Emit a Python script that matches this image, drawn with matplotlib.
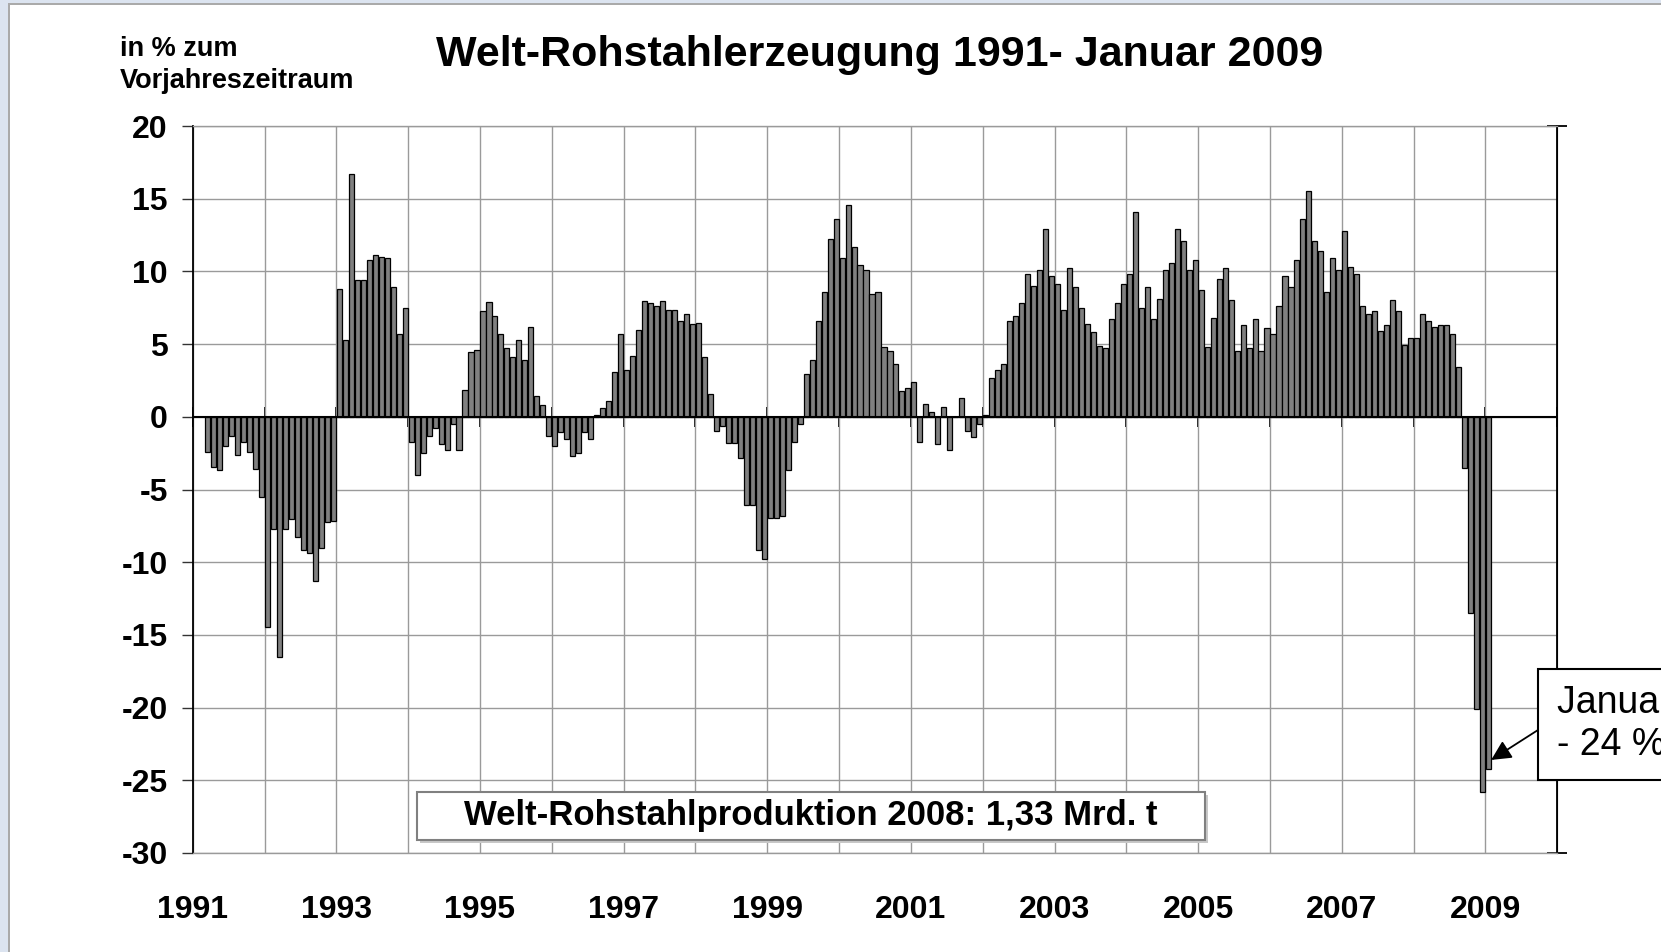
import numpy as np
import matplotlib
matplotlib.use("Agg")
import matplotlib.pyplot as plt
from matplotlib.patches import Rectangle

plt.rcParams['font.family'] = ['Liberation Sans', 'DejaVu Sans']

# monthly change in % vs. same month of previous year (Jan/Feb 1991 not shown)
nan = np.nan
y1991 = [nan, nan, -2.4, -3.45, -3.65, -2.0, -1.3, -2.6, -1.7, -2.4, -3.6, -5.5]
y1992 = [-14.45, -7.75, -16.55, -7.75, -7.0, -8.25, -9.15, -9.4, -11.3, -9.05, -7.25, -7.2]
y1993 = [8.8, 5.3, 16.7, 9.4, 9.4, 10.8, 11.15, 11.0, 10.9, 8.9, 5.7, 7.5]
y1994 = [-1.7, -4.0, -2.5, -1.3, -0.8, -1.9, -2.25, -0.5, -2.25, 1.85, 4.45, 4.6]
y1995 = [7.3, 7.9, 6.95, 5.7, 4.7, 4.1, 5.3, 3.9, 6.2, 1.4, 0.8, -1.3]
y1996 = [-2.0, -1.05, -1.55, -2.7, -2.5, -1.05, -1.55, 0.1, 0.6, 1.1, 3.05, 5.7]
y1997 = [3.2, 4.2, 6.0, 7.95, 7.85, 7.6, 7.95, 7.35, 7.35, 6.6, 7.05, 6.4]
y1998 = [6.45, 4.1, 1.6, -1.0, -0.6, -1.8, -1.8, -2.85, -6.1, -6.1, -9.15, -9.75]
y1999 = [-6.95, -6.95, -6.8, -3.65, -1.75, -0.5, 2.95, 3.9, 6.6, 8.6, 12.2, 13.6]
y2000 = [10.95, 14.55, 11.7, 10.45, 10.1, 8.45, 8.6, 4.8, 4.55, 3.65, 1.8, 2.0]
y2001 = [2.4, -1.7, 0.9, 0.35, -1.9, 0.7, -2.25, 0.0, 1.3, -0.95, -1.4, -0.5]
y2002 = [0.1, 2.7, 3.25, 3.65, 6.6, 6.95, 7.8, 9.85, 9.0, 10.1, 12.9, 9.7]
y2003 = [9.15, 7.35, 10.2, 8.9, 7.5, 6.35, 5.85, 4.85, 4.7, 6.7, 7.85, 9.15]
y2004 = [9.85, 14.1, 7.5, 8.9, 6.7, 8.1, 10.1, 10.6, 12.9, 12.1, 10.1, 10.8]
y2005 = [8.7, 4.8, 6.8, 9.5, 10.2, 8.0, 4.55, 6.3, 4.7, 6.7, 4.55, 6.1]
y2006 = [5.7, 7.6, 9.7, 8.9, 10.8, 13.6, 15.5, 12.1, 11.4, 8.6, 10.9, 10.1]
y2007 = [12.8, 10.3, 9.85, 7.6, 7.05, 7.3, 5.9, 6.3, 8.0, 7.3, 4.95, 5.4]
y2008 = [5.4, 7.05, 6.6, 6.2, 6.3, 6.3, 5.7, 3.4, -3.5, -13.5, -20.1, -25.8]
y2009 = [-24.2]

years = list(range(1991, 2011))
year_labels = [str(y) if (y - 1991) % 2 == 0 and y < 2010 else '' for y in years]
yticks = [-30, -25, -20, -15, -10, -5, 0, 5, 10, 15, 20]

values = np.array(y1991 + y1992 + y1993 + y1994 + y1995 + y1996 + y1997 + y1998
                  + y1999 + y2000 + y2001 + y2002 + y2003 + y2004 + y2005 + y2006
                  + y2007 + y2008 + y2009)
months = np.arange(len(values))

W, H = 1661, 952
fig = plt.figure(figsize=(W / 100, H / 100), dpi=100)
fig.patch.set_facecolor('white')

# slide frame (light blue border on left and top)
fig.patches.append(Rectangle((0, 0), 8 / W, 1, transform=fig.transFigure,
                             facecolor='#DCE4F0', edgecolor='none', zorder=-5))
fig.patches.append(Rectangle((0, 1 - 3 / H), 1, 3 / H, transform=fig.transFigure,
                             facecolor='#DCE4F0', edgecolor='none', zorder=-5))
fig.patches.append(Rectangle((8 / W, 0), 2 / W, 1 - 3 / H, transform=fig.transFigure,
                             facecolor='#AAAAAA', edgecolor='none', zorder=-4))
fig.patches.append(Rectangle((8 / W, 1 - 5 / H), 1, 2 / H, transform=fig.transFigure,
                             facecolor='#AAAAAA', edgecolor='none', zorder=-4))

x0, x1 = 192.7, 1557.3
ytop, ybot = 126.0, 853.0
ax = fig.add_axes([x0 / W, 1 - ybot / H, (x1 - x0) / W, (ybot - ytop) / H])

ax.bar(months + 0.5, values, width=0.85, color='#808080', edgecolor='black',
       linewidth=0.9, zorder=3)

ax.set_xlim(0, 12 * (len(years) - 1))
ax.set_ylim(-30, 20)

ax.set_xticks([12 * i for i in range(len(years))])
ax.set_xticklabels(year_labels, fontsize=23, fontweight='bold')
ax.tick_params(axis='x', length=0, pad=30)
ax.set_yticks(yticks)
ax.set_yticklabels([str(v) for v in yticks], fontsize=23, fontweight='bold')
ax.tick_params(axis='y', length=8, width=1.0, pad=10, direction='out', color='#333333')

ax.grid(True, color='#9A9A9A', linewidth=1.0, zorder=0)
ax.set_axisbelow(True)
ax.axhline(0, color='black', linewidth=1.5, zorder=4)

for s in ['top', 'bottom']:
    ax.spines[s].set_color('#9A9A9A')
    ax.spines[s].set_linewidth(1.0)
ax.spines['left'].set_color('black')
ax.spines['left'].set_linewidth(1.3)
ax.spines['right'].set_color('black')
ax.spines['right'].set_linewidth(1.3)

# year tick marks on the zero line (pointing down)
sec = ax.secondary_xaxis(30 / 50)
sec.set_xticks([12 * i for i in range(len(years))])
sec.set_xticklabels([])
sec.tick_params(axis='x', which='both', top=True, bottom=True, length=7,
                width=1.3, direction='in', color='black')
for s in sec.spines.values():
    s.set_visible(False)

# right axis with ticks only at the ends
sec_y = ax.secondary_yaxis('right')
sec_y.set_yticks([-30, 20])
sec_y.set_yticklabels([])
sec_y.tick_params(length=15, width=1.3, direction='inout', color='black')

# titles
fig.text(880 / W, 1 - 55 / H, 'Welt-Rohstahlerzeugung 1991- Januar 2009',
         fontsize=31, fontweight='bold', ha='center', va='center')
fig.text(120 / W, 1 - 65 / H, 'in % zum\nVorjahreszeitraum', fontsize=19.5,
         fontweight='bold', ha='left', va='center', linespacing=1.3)

# info box
bx0, bx1 = (417 - x0) / (x1 - x0), (1205 - x0) / (x1 - x0)
by0, by1 = (ybot - 840) / (ybot - ytop), (ybot - 792) / (ybot - ytop)
ax.add_patch(Rectangle((bx0 + 0.002, by0 - 0.004), bx1 - bx0, by1 - by0,
                       transform=ax.transAxes, facecolor='#C8C8C8',
                       edgecolor='none', zorder=5))
ax.add_patch(Rectangle((bx0, by0), bx1 - bx0, by1 - by0, transform=ax.transAxes,
                       facecolor='white', edgecolor='#808080', linewidth=1.5, zorder=6))
ax.text((bx0 + bx1) / 2, (by0 + by1) / 2, 'Welt-Rohstahlproduktion 2008: 1,33 Mrd. t',
        transform=ax.transAxes, fontsize=25, fontweight='bold',
        ha='center', va='center', zorder=7)

# callout for January 2009 (runs off the right edge of the slide, as in the original)
fig.patches.append(Rectangle((1538 / W, 1 - 780 / H), 300 / W, 111 / H,
                             transform=fig.transFigure, facecolor='white',
                             edgecolor='black', linewidth=1.5, zorder=10))
fig.text(1557 / W, 1 - 724 / H, 'Januar 2009\n- 24 %', fontsize=27,
         ha='left', va='center', linespacing=1.2, zorder=11)
last = len(values) - 1
ax.annotate('', xy=(last + 0.5 + 0.45, values[last] + 0.6),
            xytext=(1538, H - 730), textcoords='figure pixels',
            arrowprops=dict(arrowstyle='-|>', color='black', lw=1.3,
                            mutation_scale=30, shrinkA=0, shrinkB=0),
            annotation_clip=False, zorder=12)

fig.savefig('out.png', dpi=100)
